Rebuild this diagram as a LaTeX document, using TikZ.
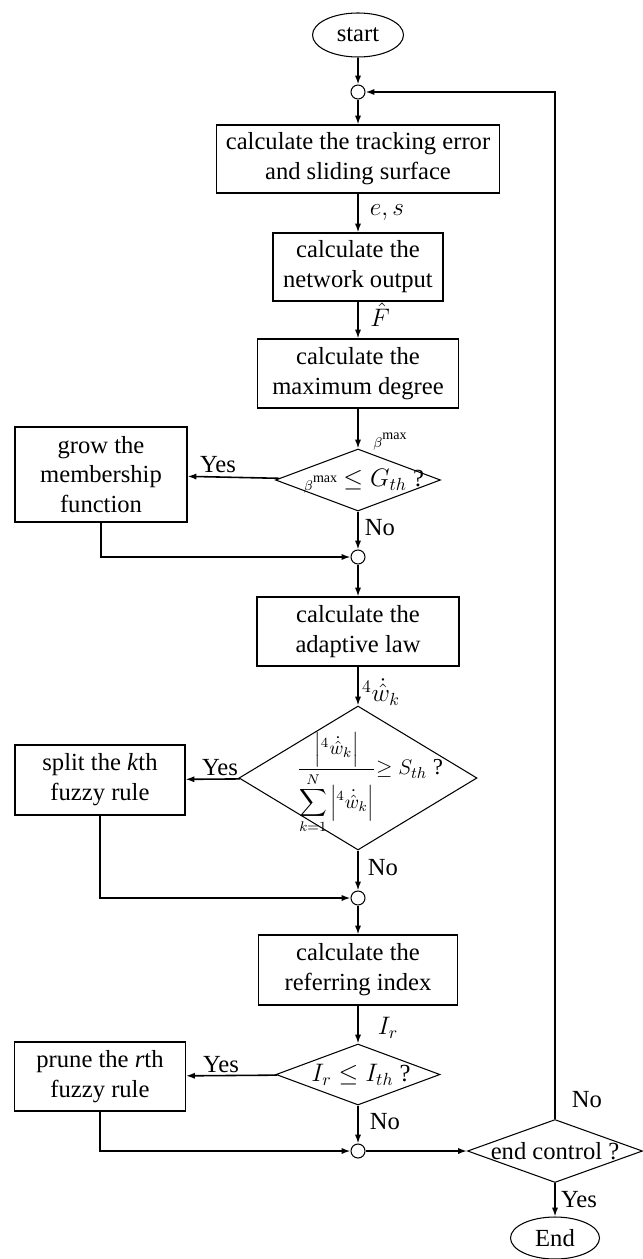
\documentclass[tikz,border=0pt]{standalone}
\usepackage{amsmath}
\usepackage{fontspec}
\setmainfont{Liberation Serif}
\usetikzlibrary{shapes.geometric,arrows.meta}
\tikzset{
  proc/.style={draw,line width=0.6pt,rectangle,align=center,inner sep=0pt},
  test/.style={draw,line width=0.6pt,diamond,inner sep=0pt},
  term/.style={draw,line width=0.6pt,ellipse,inner sep=0pt},
  junc/.style={draw,line width=0.6pt,circle,inner sep=0pt,minimum size=0.28cm},
  flow/.style={line width=0.9pt,->},
  tag/.style={inner sep=0pt},
}
\newcommand{\bmx}{{\fontsize{8}{8}\selectfont\raisebox{-2pt}{$\beta$}\raisebox{2.5pt}{max}}}
\newcommand{\wdk}{{}^{4}\dot{\hat{w}}_{k}}

\begin{document}
\begin{tikzpicture}[>={Latex[length=5pt,width=3.5pt]},
  every node/.style={font=\fontsize{14}{17}\selectfont}]
\useasboundingbox (0,0) rectangle (12.84,-25.18);
%main column
\node[term,minimum width=1.82cm,minimum height=0.88cm] (start) at (7.16,-0.70) {start};
\node[junc] (j1) at (7.16,-1.84) {};
\node[proc,minimum width=5.66cm,minimum height=1.36cm] (err) at (7.16,-3.18) {calculate the tracking error\\and sliding surface};
\node[proc,minimum width=3.40cm,minimum height=1.36cm] (net) at (7.16,-5.34) {calculate the\\network output};
\node[proc,minimum width=4.02cm,minimum height=1.38cm] (deg) at (7.16,-7.47) {calculate the\\maximum degree};
\node[test,minimum width=3.30cm,minimum height=1.24cm] (grow?) at (7.16,-9.60) {};
\node[junc] (j2) at (7.16,-11.14) {};
\node[proc,minimum width=4.04cm,minimum height=1.38cm] (law) at (7.16,-12.63) {calculate the\\adaptive law};
\node[test,minimum width=4.76cm,minimum height=2.88cm] (split?) at (7.16,-15.56) {};
\node[junc] (j3) at (7.16,-17.96) {};
\node[proc,minimum width=3.98cm,minimum height=1.40cm] (idx) at (7.16,-19.40) {calculate the\\referring index};
\node[test,minimum width=3.28cm,minimum height=1.22cm] (prune?) at (7.16,-21.49) {};
\node[junc] (j4) at (7.16,-23.02) {};
%conditions inside the diamonds
\node[tag] (gtxt) at (7.28,-9.62) {\bmx{} $\leq G_{th}$ ?};
\node[tag] (stxt) at (7.40,-15.66) {{\fontsize{11}{13}\selectfont$\dfrac{\left|\wdk\right|}{\displaystyle\sum_{k=1}^{N}\left|\wdk\right|}$}{\fontsize{13}{15}\selectfont$\geq S_{th}$ ?}};
\node[tag] (ptxt) at (7.22,-21.49) {$I_r\leq I_{th}$ ?};
%side boxes
\node[proc,minimum width=3.44cm,minimum height=1.90cm] (grow) at (2.02,-9.49) {grow the\\membership\\function};
\node[proc,minimum width=3.40cm,minimum height=1.40cm] (split) at (2.00,-15.60) {split the \textit{k}th\\fuzzy rule};
\node[proc,minimum width=3.42cm,minimum height=1.38cm] (prune) at (2.00,-21.53) {prune the \textit{r}th\\fuzzy rule};
%end test
\node[test,minimum width=3.50cm,minimum height=1.26cm] (stop?) at (11.10,-23.02) {};
\node[tag] (etxt) at (11.10,-23.02) {end control ?};
\node[term,minimum width=1.78cm,minimum height=0.84cm] (end) at (11.10,-24.76) {End};
%connectors
\draw[flow] (start) -- (j1);
\draw[flow] (j1) -- (err);
\draw[flow] (err) -- (net);
\draw[flow] (net) -- (deg);
\draw[flow] (deg) -- (grow?);
\draw[flow] (grow?) -- (j2);
\draw[flow] (j2) -- (law);
\draw[flow] (law) -- (split?);
\draw[flow] (split?) -- (j3);
\draw[flow] (j3) -- (idx);
\draw[flow] (idx) -- (prune?);
\draw[flow] (prune?) -- (j4);
\draw[flow] (j4) -- (stop?);
\draw[flow] (stop?) -- (end);
\draw[flow] (stop?.north) |- (j1);
\draw[flow] (grow?) -- (grow);
\draw[flow] (split?) -- (split);
\draw[flow] (prune?) -- (prune);
\draw[flow] (grow) |- (j2);
\draw[flow] (split) |- (j3);
\draw[flow] (prune) |- (j4);
%labels
\node[tag] (es) at (7.74,-4.26) {$e, s$};
\node[tag] (fh) at (7.60,-6.30) {$\hat{F}$};
\node[tag] (bm) at (7.80,-8.84) {\bmx};
\node[tag] (wk) at (7.62,-13.84) {$\wdk$};
\node[tag] (ir) at (7.76,-20.56) {$I_r$};
\node[tag] (y1) at (4.36,-9.30) {Yes};
\node[tag] (y2) at (4.40,-15.36) {Yes};
\node[tag] (y3) at (4.42,-21.30) {Yes};
\node[tag] (n1) at (7.60,-10.56) {No};
\node[tag] (n2) at (7.66,-17.36) {No};
\node[tag] (n3) at (7.70,-22.44) {No};
\node[tag] (n4) at (11.74,-22.00) {No};
\node[tag] (y4) at (11.58,-24.00) {Yes};
\end{tikzpicture}
\end{document}
